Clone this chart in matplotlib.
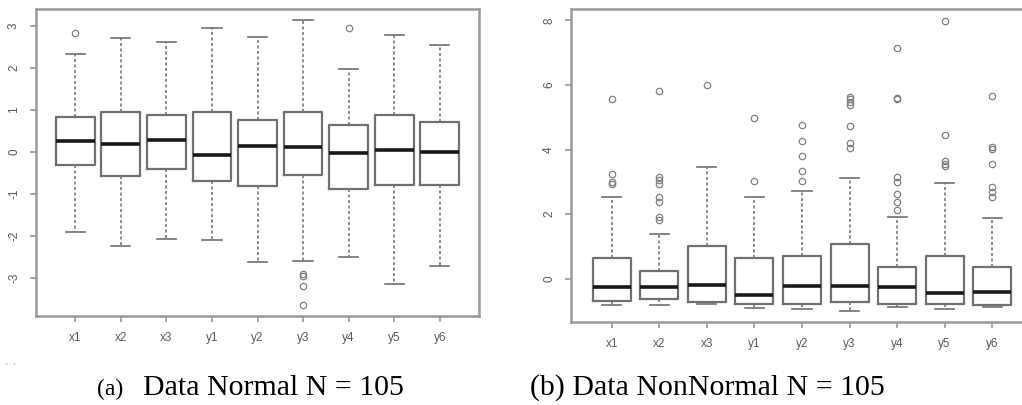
import matplotlib
matplotlib.use('Agg')
import matplotlib.pyplot as plt

# variable names on the x axis
names = ['x1', 'x2', 'x3', 'y1', 'y2', 'y3', 'y4', 'y5', 'y6']

# (a) normal data: quartiles, whiskers, outliers
a_q1 = [-0.32, -0.57, -0.40, -0.70, -0.80, -0.55, -0.87, -0.78, -0.78]
a_med = [0.25, 0.18, 0.29, -0.07, 0.15, 0.12, -0.02, 0.05, 0.01]
a_q3 = [0.84, 0.94, 0.87, 0.94, 0.75, 0.95, 0.65, 0.88, 0.71]
a_lo = [-1.90, -2.24, -2.08, -2.10, -2.62, -2.59, -2.49, -3.13, -2.71]
a_hi = [2.33, 2.71, 2.62, 2.95, 2.74, 3.13, 1.98, 2.78, 2.55]
a_out = [[2.82], [], [], [], [], [-2.89, -2.94, -3.19, -3.63], [2.95], [], []]

# (b) non-normal data
b_q1 = [-0.69, -0.64, -0.73, -0.79, -0.79, -0.71, -0.77, -0.79, -0.82]
b_med = [-0.27, -0.25, -0.19, -0.50, -0.23, -0.23, -0.27, -0.45, -0.42]
b_q3 = [0.63, 0.25, 1.01, 0.63, 0.70, 1.07, 0.36, 0.70, 0.36]
b_lo = [-0.81, -0.82, -0.79, -0.92, -0.95, -0.99, -0.89, -0.93, -0.89]
b_hi = [2.52, 1.38, 3.47, 2.54, 2.72, 3.13, 1.91, 2.96, 1.87]
b_out = [[5.55, 3.25, 3.00, 2.93],
         [5.82, 3.16, 3.05, 2.93, 2.54, 2.37, 1.90, 1.82],
         [5.99],
         [4.97, 3.02],
         [4.75, 4.27, 3.80, 3.34, 3.02],
         [5.62, 5.55, 5.46, 5.38, 4.73, 4.19, 4.06],
         [7.15, 5.60, 5.57, 3.16, 3.00, 2.62, 2.37, 2.13],
         [7.99, 4.46, 3.65, 3.55, 3.50],
         [5.65, 4.09, 4.02, 3.56, 2.85, 2.69, 2.54]]

a_ticks = [-3, -2, -1, 0, 1, 2, 3]
b_ticks = [0, 2, 4, 6, 8]

frame_col = '#9a9a9a'
box_col = '#707070'
txt_col = '#5a5a5a'


def make_stats(q1, med, q3, lo, hi, out):
    stats = []
    for i in range(len(names)):
        stats.append({'label': names[i], 'q1': q1[i], 'med': med[i], 'q3': q3[i],
                      'whislo': lo[i], 'whishi': hi[i], 'fliers': out[i]})
    return stats


def draw(ax, stats, ticks, ylim, width):
    ax.bxp(stats, widths=width, capwidths=width * 0.5, showfliers=True,
           boxprops=dict(color=box_col, linewidth=1.6),
           medianprops=dict(color='#1a1a1a', linewidth=2.6),
           whiskerprops=dict(color=box_col, linewidth=1.1, linestyle=(0, (2, 1.6))),
           capprops=dict(color=box_col, linewidth=1.2),
           flierprops=dict(marker='o', markersize=4.6, markerfacecolor='none',
                           markeredgecolor='#808080', markeredgewidth=0.9))
    ax.set_xlim(0.14, 9.86)
    ax.set_ylim(*ylim)
    ax.set_yticks(ticks)
    ax.set_yticklabels([str(t) for t in ticks], rotation=90, va='center')
    for lab in ax.get_xticklabels() + ax.get_yticklabels():
        lab.set_family('Liberation Sans')
    for s in ax.spines.values():
        s.set_color(frame_col)
        s.set_linewidth(1.8)
    ax.tick_params(colors=frame_col, labelcolor=txt_col, labelsize=8.5,
                   length=4.5, width=1.2)
    ax.tick_params(axis='y', pad=7)
    ax.tick_params(axis='x', pad=7)


fig = plt.figure(figsize=(10.22, 4.05), dpi=100)
W, H = 1022.0, 405.0

ax1 = fig.add_axes([36 / W, 1 - 316 / H, 443 / W, 307 / H])
draw(ax1, make_stats(a_q1, a_med, a_q3, a_lo, a_hi, a_out), a_ticks, (-3.9, 3.4), 0.85)

ax2 = fig.add_axes([571 / W, 1 - 322 / H, 462 / W, 313 / H])
draw(ax2, make_stats(b_q1, b_med, b_q3, b_lo, b_hi, b_out), b_ticks, (-1.34, 8.35), 0.8)

# captions
base = 1 - 395 / H
serif = 'Liberation Serif'
fig.text(97 / W, base, '(a)', fontsize=17, family=serif, va='baseline')
fig.text(143 / W, base, 'Data Normal N = 105', fontsize=21.5, family=serif, va='baseline')
fig.text(530 / W, base, '(b) Data NonNormal N = 105', fontsize=21.5, family=serif,
         va='baseline')
fig.text(5 / W, 1 - 371 / H, '` \u00b4', fontsize=6, color='#777777')

fig.savefig('out.png', dpi=100)
